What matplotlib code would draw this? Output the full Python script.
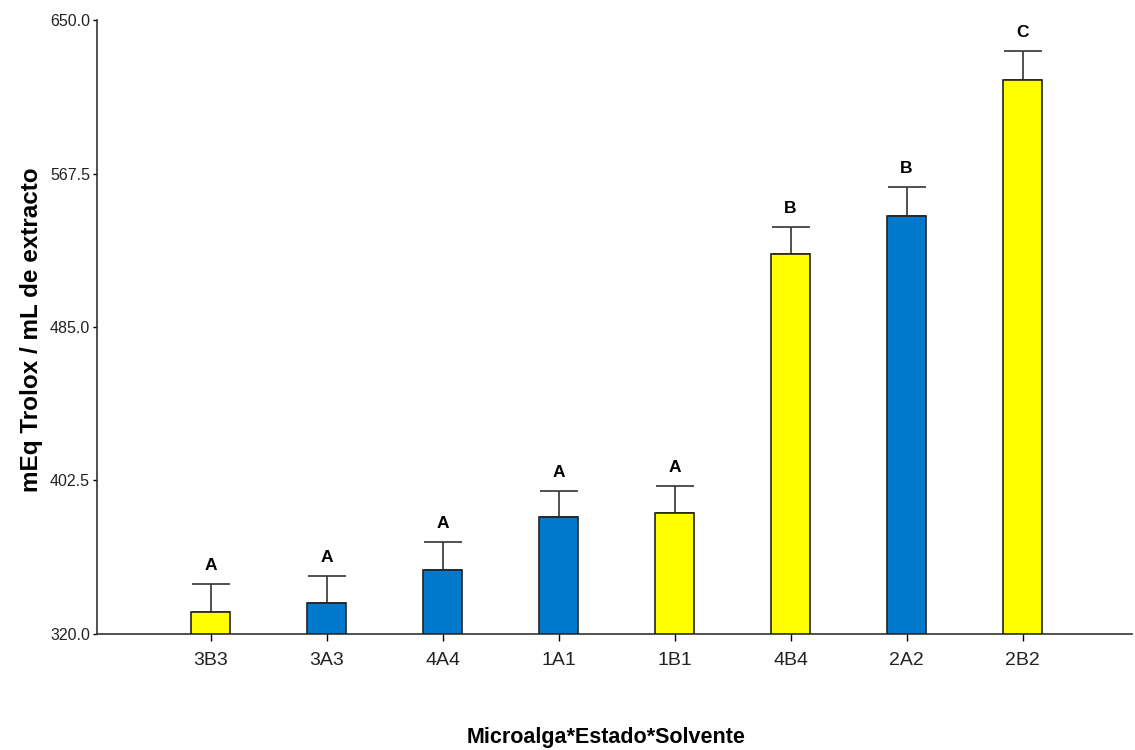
import numpy as np
import matplotlib.pyplot as plt

# Treatment groups (microalga * state * solvent) in plotted order
groups = ['3B3', '3A3', '4A4', '1A1', '1B1', '4B4', '2A2', '2B2']
means = [332.0, 336.8, 354.4, 383.0, 384.9, 524.2, 544.7, 617.8]
errors = [14.7, 14.5, 14.9, 13.9, 14.6, 14.7, 15.5, 15.5]
letters = ['A', 'A', 'A', 'A', 'A', 'B', 'B', 'C']
states = ['B', 'A', 'A', 'A', 'B', 'B', 'A', 'B']

state_colors = {'A': '#0079CC', 'B': '#FFFF00'}
yticks = [320.0, 402.5, 485.0, 567.5, 650.0]

plt.rcParams['font.family'] = ['Liberation Sans', 'DejaVu Sans']

fig = plt.figure(figsize=(11.35, 7.5), dpi=100)
ax = fig.add_axes([0.0855, 0.1547, 0.912, 0.8186])

x = np.arange(len(groups))
colors = [state_colors[s] for s in states]
ax.bar(x, np.array(means) - 320.0, bottom=320.0, width=0.34, color=colors,
       edgecolor='#222222', linewidth=1.2, zorder=3)
ax.errorbar(x, means, yerr=[np.zeros(len(errors)), errors], fmt='none',
            ecolor='#333333', elinewidth=1.2, capsize=14, capthick=1.2, zorder=2)

# significance letters above each error bar
for xi, m, e, lab in zip(x, means, errors, letters):
    ax.annotate(lab, (xi, m + e), xytext=(0, 8), textcoords='offset points',
                ha='center', va='bottom', fontsize=12.5, fontweight='bold')

ax.set_xlim(-0.978, 7.944)
ax.set_ylim(320, 650)
ax.set_yticks(yticks)
ax.set_yticklabels([f'{v:.1f}' for v in yticks], fontsize=11.5, color='#222222')
ax.set_xticks(x)
ax.set_xticklabels(groups, fontsize=14, color='#222222')
ax.tick_params(axis='y', length=3, width=1, direction='out', pad=2)
ax.tick_params(axis='x', length=5, width=1, direction='out', pad=8)

for side in ['top', 'right']:
    ax.spines[side].set_visible(False)
for side in ['left', 'bottom']:
    ax.spines[side].set_color('#333333')
    ax.spines[side].set_linewidth(1.2)

# axis titles placed in figure coordinates
fig.text(32 / 1135, 1 - 330 / 750, 'mEq Trolox / mL de extracto', rotation=90,
         ha='center', va='center', fontsize=17.5, fontweight='bold')
fig.text(606 / 1135, 1 - 737 / 750, 'Microalga*Estado*Solvente',
         ha='center', va='center', fontsize=15.5, fontweight='bold')

fig.savefig('out.png', dpi=100)
